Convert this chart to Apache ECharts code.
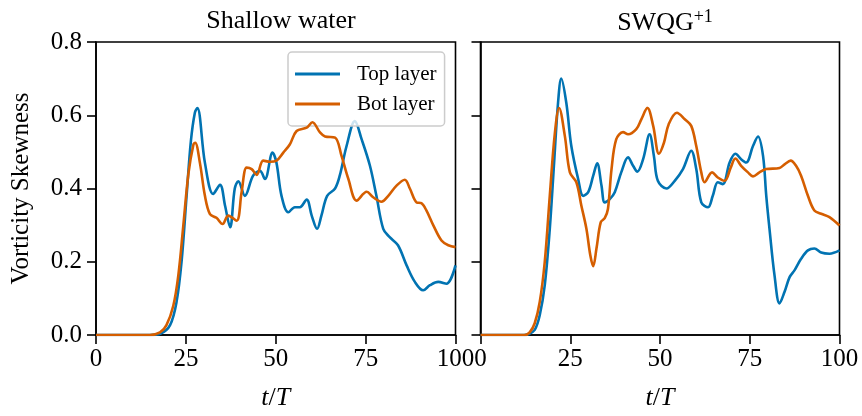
<!DOCTYPE html>
<html>
<head>
<meta charset="utf-8">
<script src="https://cdn.jsdelivr.net/npm/echarts@6/dist/echarts.min.js"></script>
<style>html,body{margin:0;padding:0;background:#fff}#c{width:862px;height:416px}</style>
</head>
<body>
<div id="c"></div>
<script>
const panelTitles = ['Shallow water', 'SWQG'];
const seriesNames = ['Top layer', 'Bot layer'];
const xTicks = [0, 25, 50, 75, 100];
const yTicks = [0, 0.2, 0.4, 0.6, 0.8];

// Shallow water, top layer
const swTop = [[0,0],[15,0],[18,0.004],[20.6,0.027],[22.4,0.09],[23.8,0.2],[25.2,0.38],[26.4,0.53],[27.5,0.607],[28.2,0.62],
[30.3,0.47],[32.6,0.385],[34.5,0.41],[35.9,0.353],[37.3,0.294],[38.6,0.40],[39.6,0.42],[41.4,0.38],[43.7,0.435],[45.6,0.448],
[47,0.426],[49.1,0.498],[50.2,0.47],[51.6,0.38],[53.5,0.335],[55.3,0.349],[56.7,0.349],[58.6,0.37],[60,0.326],[61.5,0.29],
[62.7,0.326],[64.3,0.38],[66.5,0.40],[67.8,0.435],[69.7,0.516],[72,0.584],[73.9,0.534],[76.2,0.462],[78,0.38],[79.9,0.29],
[81.7,0.267],[84,0.245],[86.4,0.19],[88.7,0.145],[91,0.122],[92.9,0.136],[95.2,0.145],[97.5,0.14],[100,0.19]];
// Shallow water, bottom layer
const swBot = [[0,0],[15,0],[17.8,0.007],[19.6,0.027],[21.5,0.08],[22.9,0.163],[24.3,0.3],[25.7,0.44],[27.1,0.52],[27.6,0.525],
[28.9,0.47],[30.3,0.38],[31.7,0.33],[33.5,0.32],[35.2,0.303],[36.8,0.326],[39.1,0.312],[40.5,0.39],[41.9,0.457],[43.3,0.453],
[44.7,0.437],[46.5,0.476],[48.4,0.473],[50.2,0.476],[52.1,0.498],[53.9,0.52],[55.8,0.557],[58.6,0.566],[60.2,0.581],[62.3,0.553],
[63.7,0.542],[66.5,0.539],[68.3,0.489],[70.2,0.426],[72.5,0.367],[75.3,0.391],[77.1,0.376],[79.4,0.364],[81.3,0.38],[83.6,0.408],
[85.9,0.424],[87.3,0.40],[89.2,0.362],[90.5,0.36],[91.9,0.34],[93.8,0.30],[96.1,0.258],[98,0.245],[100,0.24]];
// SWQG+1, top layer
const qgTop = [[0,0],[12,0],[13.3,0.002],[15.1,0.014],[16.5,0.054],[17.9,0.136],[19.3,0.29],[20.5,0.47],[21.6,0.634],[22.5,0.70],
[23.9,0.634],[25.3,0.516],[27.2,0.426],[28.6,0.38],[30,0.39],[31.4,0.435],[32.5,0.469],[33.7,0.408],[34.6,0.362],[36,0.371],
[37.4,0.39],[39.2,0.444],[41.1,0.485],[42.5,0.462],[43.7,0.446],[45.3,0.48],[47.1,0.548],[48.3,0.489],[49.4,0.421],[51.8,0.40],
[54.1,0.421],[56.4,0.453],[58.7,0.503],[60.1,0.453],[61.5,0.362],[63.4,0.349],[64.7,0.38],[66.1,0.417],[67.5,0.412],[69.4,0.471],
[71,0.495],[72.6,0.48],[74,0.471],[75.9,0.516],[77.3,0.542],[78.7,0.489],[79.6,0.38],[80.5,0.29],[81.9,0.163],[83.3,0.086],
[84.7,0.118],[86.1,0.158],[87.5,0.177],[89.3,0.208],[91.2,0.231],[93,0.236],[94.9,0.225],[97.2,0.222],[100,0.231]];
// SWQG+1, bottom layer
const qgBot = [[0,0],[12.3,0],[13.7,0.007],[15.1,0.032],[16.5,0.09],[17.9,0.2],[19.3,0.38],[20.7,0.55],[21.9,0.62],[23.5,0.543],
[24.9,0.444],[26.7,0.417],[28.1,0.353],[29.5,0.29],[30.6,0.217],[31.4,0.188],[32.3,0.236],[33.5,0.308],[34.6,0.319],[35.5,0.344],
[36.5,0.453],[37.8,0.534],[39.7,0.554],[41.1,0.548],[43.4,0.562],[44.8,0.589],[46.5,0.62],[48.1,0.571],[49.7,0.495],[51.1,0.525],
[52.4,0.575],[54.7,0.607],[56.9,0.589],[58.7,0.571],[60.1,0.516],[61.5,0.444],[62.4,0.417],[64.5,0.444],[66.1,0.43],[68,0.421],
[69.7,0.457],[71,0.482],[72.6,0.462],[74.5,0.444],[75.9,0.433],[77.7,0.444],[79.6,0.453],[83.3,0.456],[84.7,0.466],[86.4,0.476],
[87.9,0.462],[89.3,0.435],[91.2,0.38],[93,0.34],[94.9,0.331],[97.2,0.322],[100,0.299]];

const BLUE = '#0173b2', ORANGE = '#d55e00';
const FONT = 'Liberation Serif';
const FS = 25;
const TFS = 26;
const LFS = 21;

function xAxis(gi) {
  return {
    type: 'value', gridIndex: gi, min: 0, max: 100, interval: 25,
    axisLine: {show: true, onZero: false, lineStyle: {color: '#000', width: 1.6}},
    axisTick: {show: true, inside: false, length: 9, lineStyle: {color: '#000', width: 1.6}},
    axisLabel: {show: true, color: '#000', fontFamily: FONT, fontSize: FS, margin: 12, showMinLabel: true, showMaxLabel: true,
      formatter: v => xTicks.includes(v) ? String(v) : ''},
    splitLine: {show: false},
    name: '{i|t}{n|/}{i|T}', nameLocation: 'middle', nameGap: 50,
    nameTextStyle: {rich: {i: {fontFamily: FONT, fontStyle: 'italic', fontSize: TFS, color: '#000'}, n: {fontFamily: FONT, fontSize: TFS, color: '#000'}}}
  };
}
function yAxis(gi, showLabels) {
  const a = {
    type: 'value', gridIndex: gi, min: 0, max: 0.8, interval: 0.2,
    axisLine: {show: true, onZero: false, lineStyle: {color: '#000', width: 1.6}},
    axisTick: {show: true, inside: false, length: 9, lineStyle: {color: '#000', width: 1.6}},
    axisLabel: {show: showLabels, color: '#000', fontFamily: FONT, fontSize: FS, margin: 14,
      formatter: v => yTicks.some(t => Math.abs(t - v) < 1e-9) ? v.toFixed(1) : ''},
    splitLine: {show: false}
  };
  if (showLabels) {
    a.name = 'Vorticity Skewness';
    a.nameLocation = 'middle';
    a.nameGap = 62;
    a.nameTextStyle = {fontFamily: FONT, fontSize: FS, color: '#000'};
  }
  return a;
}
function line(name, data, color, gi) {
  return {
    type: 'line', name: name, data: data, xAxisIndex: gi, yAxisIndex: gi,
    showSymbol: false, symbol: 'none', smooth: 0.35, clip: true,
    lineStyle: {color: color, width: 2.6}, itemStyle: {color: color}, z: color === BLUE ? 3 : 4
  };
}

const chart = echarts.init(document.getElementById('c'), null, {renderer: 'canvas'});
chart.setOption({
  animation: false,
  backgroundColor: '#fff',
  title: [
    {text: panelTitles[0], left: 276, top: 3, textAlign: 'center',
     textStyle: {fontFamily: FONT, fontSize: TFS, fontWeight: 'normal', color: '#000'}},
    {text: '{m|' + panelTitles[1] + '}{s|+1}', left: 660, top: 3, textAlign: 'center',
     textStyle: {fontWeight: 'normal',
       rich: {m: {fontFamily: FONT, fontSize: TFS, fontWeight: 'normal', color: '#000', verticalAlign: 'bottom'},
              s: {fontFamily: FONT, fontSize: 18, fontWeight: 'normal', color: '#000', verticalAlign: 'top', padding: [0, 0, 10, 0]}}}}
  ],
  grid: [
    {left: 96, right: 406.5, top: 42, bottom: 79, show: true, borderColor: '#000', borderWidth: 1.6, containLabel: false},
    {left: 480.5, right: 22.5, top: 42, bottom: 79, show: true, borderColor: '#000', borderWidth: 1.6, containLabel: false}
  ],
  xAxis: [xAxis(0), xAxis(1)],
  yAxis: [yAxis(0, true), yAxis(1, false)],
  legend: {
    data: [{name: seriesNames[0], icon: 'rect'}, {name: seriesNames[1], icon: 'rect'}],
    orient: 'vertical', left: 288, top: 52,
    itemWidth: 45, itemHeight: 3, itemGap: 6,
    padding: [10, 8, 10, 7],
    borderColor: '#cccccc', borderWidth: 1.5, borderRadius: 4, backgroundColor: 'rgba(255,255,255,0.8)',
    textStyle: {fontFamily: FONT, fontSize: LFS, lineHeight: 24, color: '#000', padding: [0, 0, 0, 12]}
  },
  series: [
    line(seriesNames[0], swTop, BLUE, 0),
    line(seriesNames[1], swBot, ORANGE, 0),
    line(seriesNames[0], qgTop, BLUE, 1),
    line(seriesNames[1], qgBot, ORANGE, 1)
  ]
});
</script>
</body>
</html>
